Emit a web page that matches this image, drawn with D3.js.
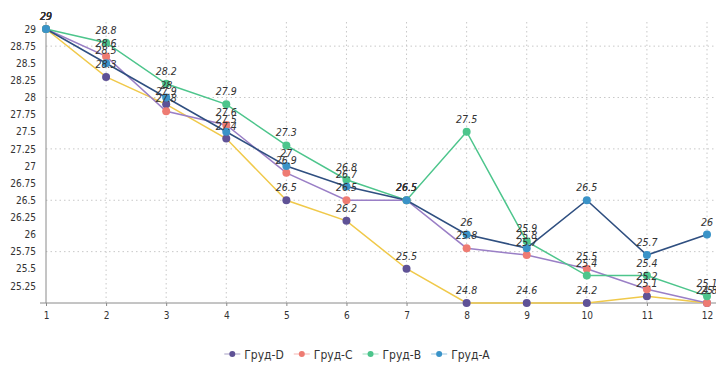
<!DOCTYPE html>
<html>
<head>
<meta charset="utf-8">
<script src="https://cdn.jsdelivr.net/npm/d3@7"></script>
<style>
  body { margin: 0; background: #fff; }
  text { font-family: "DejaVu Sans Condensed", "DejaVu Sans", sans-serif; font-stretch: condensed; }
</style>
</head>
<body>
<script>
// categories and series
var steps = [1, 2, 3, 4, 5, 6, 7, 8, 9, 10, 11, 12];
var grudD = [29, 28.3, 27.9, 27.4, 26.5, 26.2, 25.5, 24.8, 24.6, 24.2, 25.1, 24.8];
var grudC = [29, 28.6, 27.8, 27.6, 26.9, 26.5, 26.5, 25.8, 25.7, 25.5, 25.2, 25.0];
var grudB = [29, 28.8, 28.2, 27.9, 27.3, 26.8, 26.5, 27.5, 25.9, 25.4, 25.4, 25.1];
var grudA = [29, 28.5, 28.0, 27.5, 27.0, 26.7, 26.5, 26.0, 25.8, 26.5, 25.7, 26.0];
var yTicks = [25.25, 25.5, 25.75, 26, 26.25, 26.5, 26.75, 27, 27.25, 27.5, 27.75, 28, 28.25, 28.5, 28.75, 29];
var yGrid = [25.75, 26.5, 27.25, 28, 28.75];

var series = [
    {name: "Груд-D", values: grudD, line: "#f0c94a", dot: "#5f5296"},
    {name: "Груд-C", values: grudC, line: "#9a7fc6", dot: "#ee7b72"},
    {name: "Груд-B", values: grudB, line: "#4dc58c", dot: "#4dc58c"},
    {name: "Груд-A", values: grudA, line: "#2f4f80", dot: "#3a93c8"}
];

var width = 716, height = 365;

var x = d3.scaleLinear().domain([1, 12]).range([46, 707]);
var y = d3.scaleLinear().domain([25, 29]).range([303, 29]).clamp(true);

var svg = d3.select("body").append("svg")
    .attr("width", width)
    .attr("height", height);

// grid
svg.append("g").selectAll("line")
    .data(steps.slice(1))
    .enter().append("line")
    .attr("x1", d => x(d)).attr("x2", d => x(d))
    .attr("y1", 22).attr("y2", 303)
    .attr("stroke", "#c8c8c8")
    .attr("stroke-dasharray", "1.5,3");

svg.append("g").selectAll("line")
    .data(yGrid)
    .enter().append("line")
    .attr("x1", 46).attr("x2", 716)
    .attr("y1", d => y(d)).attr("y2", d => y(d))
    .attr("stroke", "#c8c8c8")
    .attr("stroke-dasharray", "1.5,3");

// axes
var yAxis = d3.axisLeft(y).tickValues(yTicks).tickSize(0).tickPadding(10).tickFormat(d => String(d));
var gy = svg.append("g").attr("transform", "translate(46,0)").call(yAxis);
gy.select(".domain").attr("stroke", "#8a8a8a").attr("d", "M0,22V303");
gy.selectAll("text").attr("font-size", 10).attr("fill", "#333");

var xAxis = d3.axisBottom(x).tickValues(steps).tickSize(3).tickPadding(6).tickFormat(d3.format("d"));
var gx = svg.append("g").attr("transform", "translate(0,303)").call(xAxis);
gx.select(".domain").attr("stroke", "#8a8a8a").attr("d", "M40,0H716");
gx.selectAll(".tick line").attr("stroke", "#8a8a8a");
gx.selectAll("text").attr("font-size", 10).attr("fill", "#333");

// lines
var line = d3.line()
    .x((d, i) => x(steps[i]))
    .y(d => y(d));

series.forEach(function(s) {
    svg.append("path")
        .attr("d", line(s.values))
        .attr("fill", "none")
        .attr("stroke", s.line)
        .attr("stroke-width", 1.5);
});

series.forEach(function(s) {
    svg.append("g").selectAll("circle")
        .data(s.values)
        .enter().append("circle")
        .attr("cx", (d, i) => x(steps[i]))
        .attr("cy", d => y(d))
        .attr("r", 4)
        .attr("fill", s.dot);
});

// value labels
series.forEach(function(s) {
    svg.append("g").selectAll("text")
        .data(s.values)
        .enter().append("text")
        .attr("x", (d, i) => x(steps[i]))
        .attr("y", d => y(d) - 9)
        .attr("text-anchor", "middle")
        .attr("font-size", 10.5)
        .attr("font-style", "italic")
        .attr("fill", "#333")
        .text(d => String(d));
});

// legend
var legend = svg.append("g");
var lx = 0;
series.forEach(function(s) {
    var g = legend.append("g").attr("transform", "translate(" + lx + ",0)");
    g.append("line").attr("x1", 0).attr("x2", 16).attr("y1", 0).attr("y2", 0)
        .attr("stroke", s.dot).attr("stroke-width", 1.2).attr("opacity", 0.45);
    g.append("circle").attr("cx", 8).attr("cy", 0).attr("r", 3).attr("fill", s.dot);
    var t = g.append("text").attr("x", 20).attr("y", 4.5)
        .attr("font-size", 12).attr("fill", "#333").text(s.name);
    lx += 20 + t.node().getComputedTextLength() + 10;
});
lx -= 10;
legend.attr("transform", "translate(" + (357 - lx / 2) + ",354)");
</script>
</body>
</html>
